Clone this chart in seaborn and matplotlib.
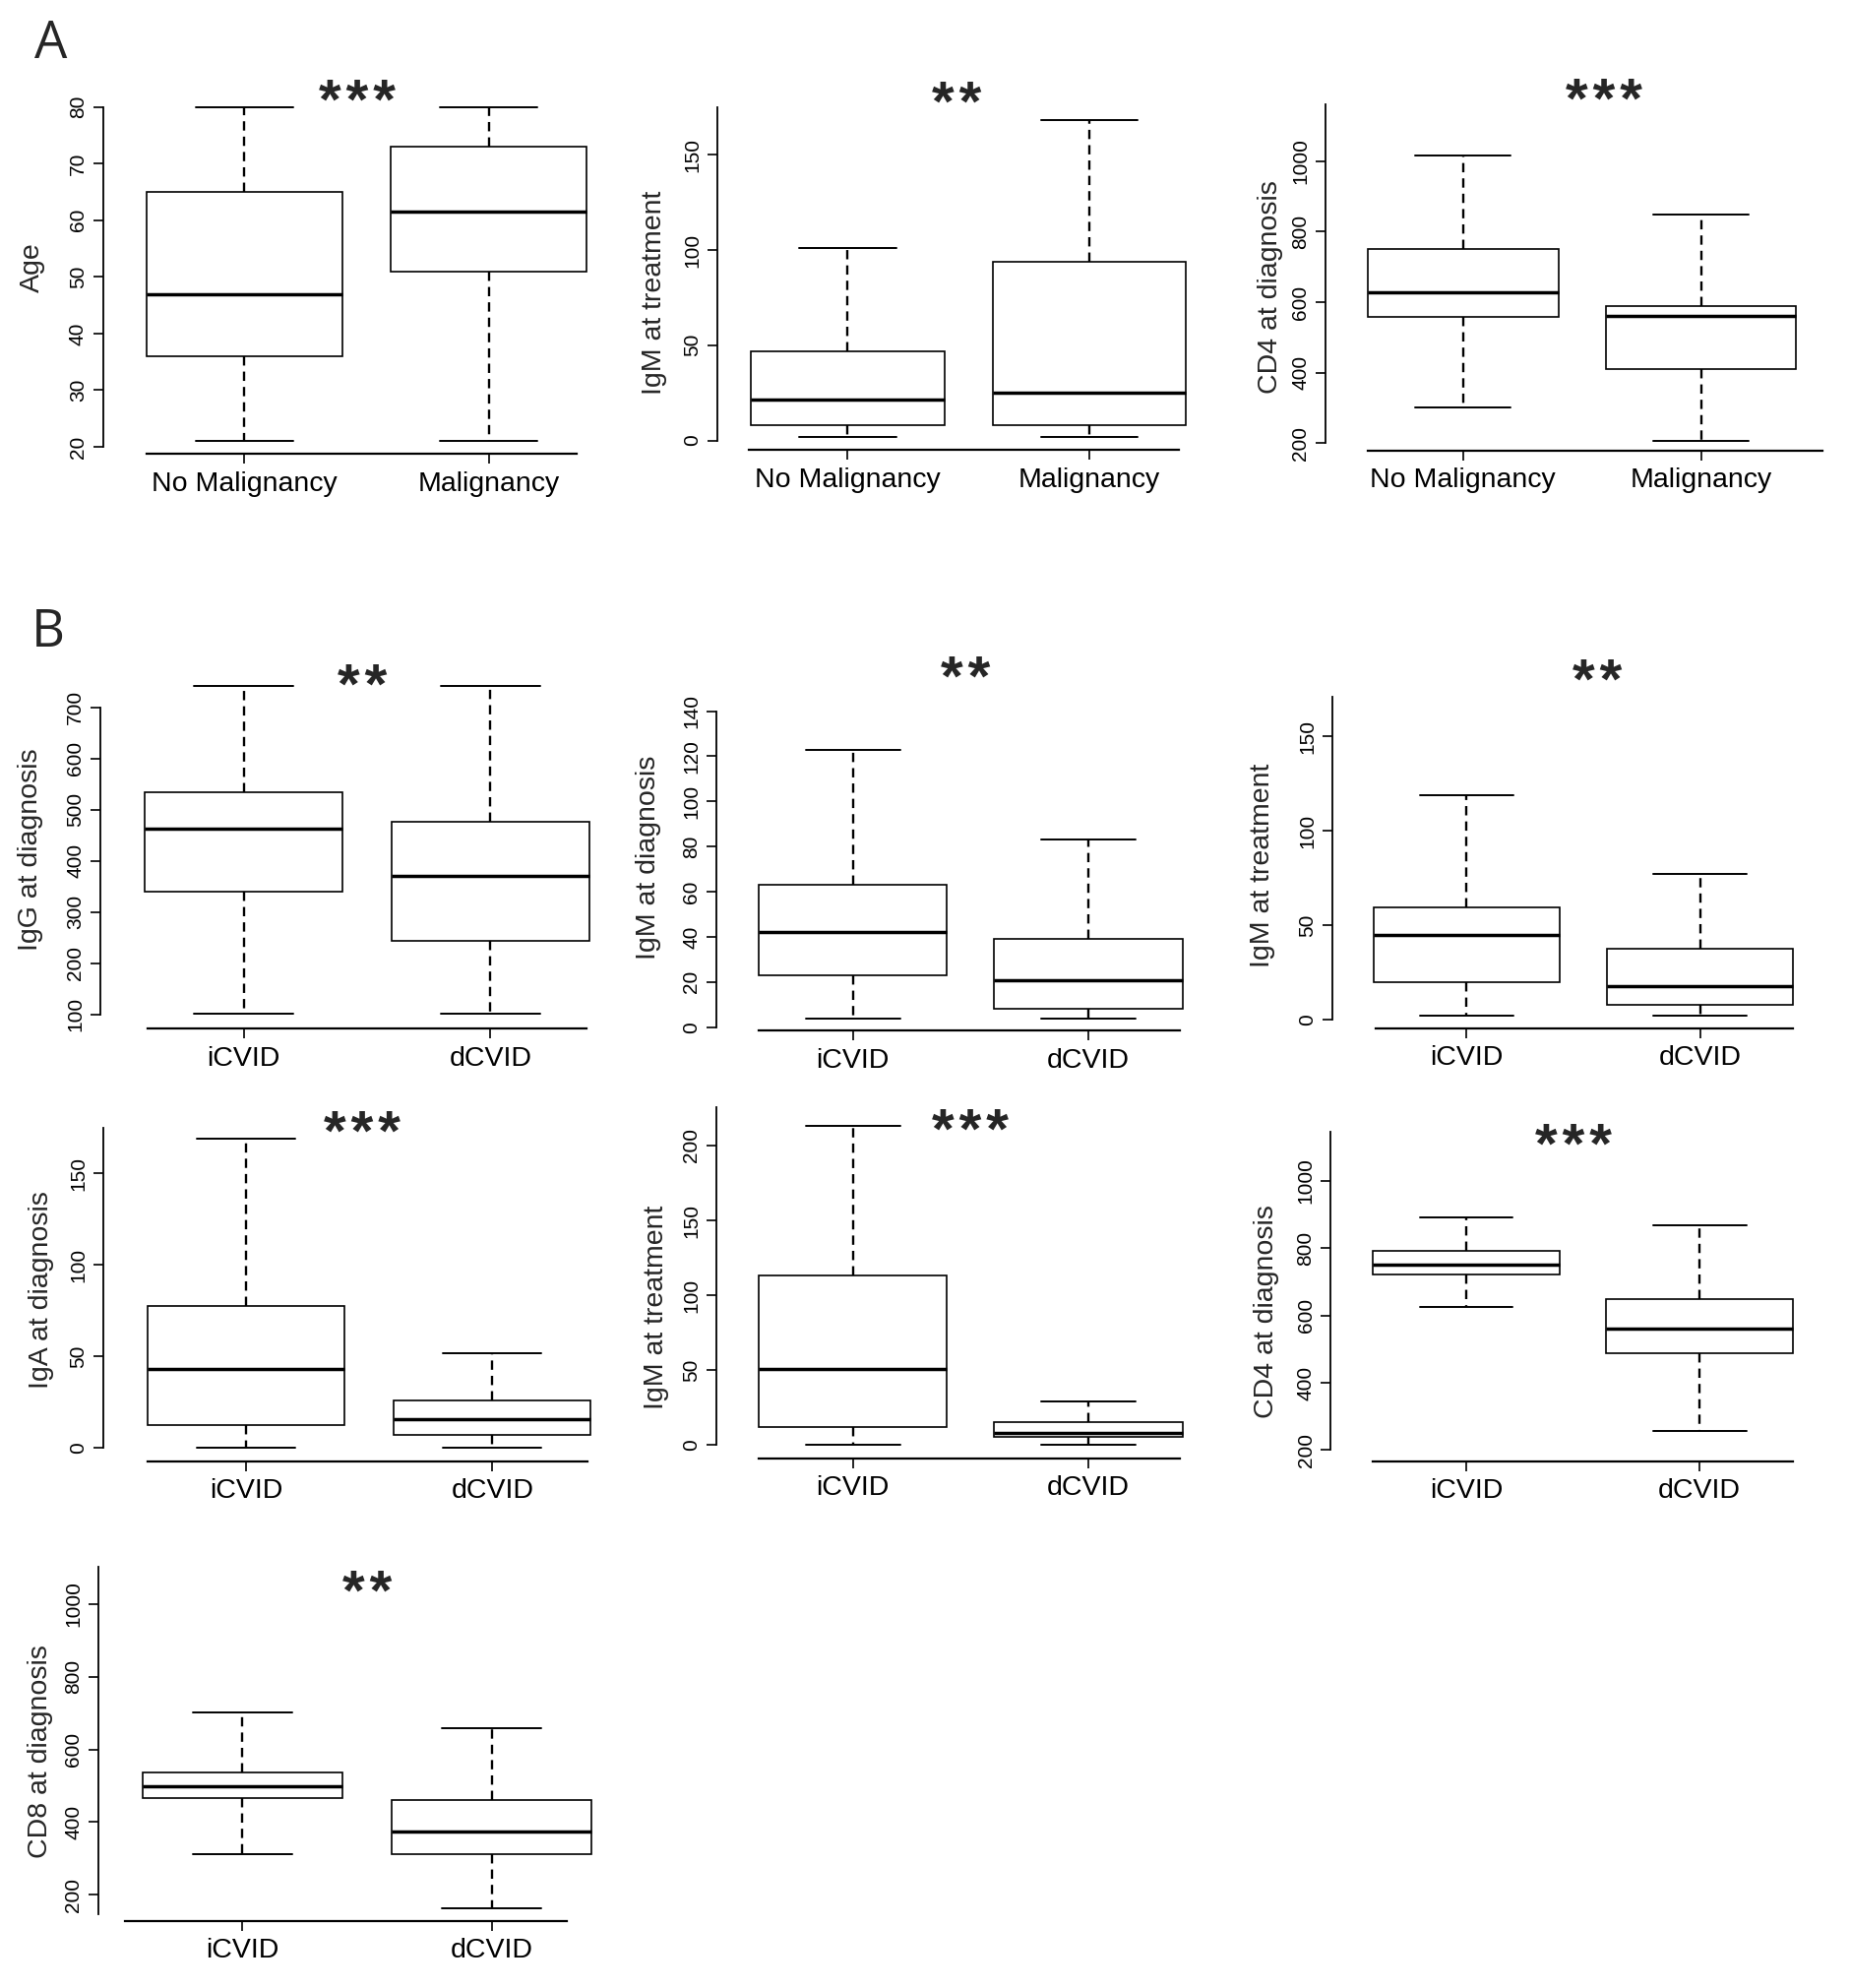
import matplotlib
matplotlib.use("Agg")
import matplotlib.pyplot as plt
import numpy as np
import pandas as pd
import seaborn as sns

# ---------------- data (five-number summaries) ----------------
# order: lower whisker, Q1, median, Q3, upper whisker
malig_groups = ["No Malignancy", "Malignancy"]
cvid_groups = ["iCVID", "dCVID"]

age_no_malig = [21, 36, 47, 65, 80]
age_malig = [21, 51, 61.5, 73, 80]
igm_treat_no_malig = [2, 8, 21.3, 47, 101]
igm_treat_malig = [2, 8, 25, 93.7, 168.5]
cd4_diag_no_malig = [300, 559, 629, 750, 1015]
cd4_diag_malig = [206, 411, 560, 589, 849]

igg_diag_i = [101, 341, 464, 535, 742]
igg_diag_d = [101, 244, 370, 476, 742]
igm_diag_i = [4, 23, 42, 63, 123]
igm_diag_d = [4, 8, 21, 39, 83]
igm_treat_i = [2, 20, 45, 59.5, 119]
igm_treat_d = [2, 8, 17.5, 37.5, 77]
iga_diag_i = [0, 12.5, 43, 77.5, 169]
iga_diag_d = [0, 6.7, 15.3, 25.8, 51.5]
igm_treat2_i = [0, 12, 51, 113, 213]
igm_treat2_d = [0, 5.4, 8, 15, 29]
cd4_diag_i = [625, 722, 751, 793, 891]
cd4_diag_d = [256, 487, 560, 647, 868]
cd8_diag_i = [313, 465, 498, 536, 701]
cd8_diag_d = [163, 312, 374, 461, 659]

yticks_age = [20, 30, 40, 50, 60, 70, 80]
yticks_igm150 = [0, 50, 100, 150]
yticks_cd = [200, 400, 600, 800, 1000]
yticks_igg = [100, 200, 300, 400, 500, 600, 700]
yticks_igm140 = [0, 20, 40, 60, 80, 100, 120, 140]
yticks_igm200 = [0, 50, 100, 150, 200]

panels = [
    ("Age", malig_groups, age_no_malig, age_malig, yticks_age, "***"),
    ("IgM at treatment", malig_groups, igm_treat_no_malig, igm_treat_malig, yticks_igm150, "**"),
    ("CD4 at diagnosis", malig_groups, cd4_diag_no_malig, cd4_diag_malig, yticks_cd, "***"),
    ("IgG at diagnosis", cvid_groups, igg_diag_i, igg_diag_d, yticks_igg, "**"),
    ("IgM at diagnosis", cvid_groups, igm_diag_i, igm_diag_d, yticks_igm140, "**"),
    ("IgM at treatment", cvid_groups, igm_treat_i, igm_treat_d, yticks_igm150, "**"),
    ("IgA at diagnosis", cvid_groups, iga_diag_i, iga_diag_d, yticks_igm150, "***"),
    ("IgM at treatment", cvid_groups, igm_treat2_i, igm_treat2_d, yticks_igm200, "***"),
    ("CD4 at diagnosis", cvid_groups, cd4_diag_i, cd4_diag_d, yticks_cd, "***"),
    ("CD8 at diagnosis", cvid_groups, cd8_diag_i, cd8_diag_d, yticks_cd, "**"),
]

# ---------------- layout (pixel geometry of each panel) ----------------
# c1, unit, y-axis x pos, x-line bounds, yref, yref_px, px/unit, ybottom, y-line bounds, star xy, ylabel px
layout = [
    (248.4, 248.4, -0.578, (-0.40, 1.36), 80, 108.7, 5.755, 18.75, (20, 80), (0.46, 83.5), (33, 272)),
    (861.5, 245.6, -0.54, (-0.41, 1.37), 150, 157.3, 1.935, -5.1, (0, 175), (0.45, 184.5), (665, 297)),
    (1486.8, 241.9, -0.578, (-0.40, 1.51), 1000, 163.7, 0.3581, 178.6, (200, 1160), (0.59, 1212), (1291, 292)),
    (247.6, 250.8, -0.58, (-0.39, 1.39), 700, 718.8, 0.5202, 72, (100, 700), (0.48, 770), (31, 863)),
    (866.8, 239.1, -0.58, (-0.40, 1.39), 140, 722.6, 2.2935, -1.6, (0, 140), (0.48, 160.7), (659, 871)),
    (1490.4, 237.1, -0.575, (-0.39, 1.40), 150, 748.2, 1.9187, -4.6, (0, 171), (0.56, 186.8), (1283, 879)),
    (250.4, 250.0, -0.58, (-0.40, 1.385), 150, 1192.0, 1.8593, -7.5, (0, 175), (0.47, 180), (42, 1311)),
    (866.8, 239.1, -0.58, (-0.40, 1.39), 200, 1163.9, 1.522, -8.7, (0, 225.6), (0.50, 219), (667, 1328)),
    (1490.0, 237.1, -0.58, (-0.40, 1.40), 1000, 1199.7, 0.3421, 166.7, (200, 1144), (0.46, 1146.5), (1287, 1333)),
    (246.4, 253.2, -0.578, (-0.47, 1.30), 1000, 1630.0, 0.369, 127, (147, 1102), (0.50, 1072), (41, 1780)),
]

W, H, DPI = 1880, 2020, 100
XR = 1.58

sns.set_style("ticks")
plt.rcParams["font.family"] = ["Liberation Sans", "DejaVu Sans"]

fig = plt.figure(figsize=(W / DPI, H / DPI), dpi=DPI)
fig.patch.set_facecolor("white")

STAR_FS = 42
TICK_FS = 15
LAB_FS = 20.5

for (ylabel, groups, v1, v2, yticks, stars), lay in zip(panels, layout):
    c1, unit, xax, xline, yref, yref_px, ppu, ybot, yline, (sx, sy), (lx, ly) = lay
    ytop = max(yline[1], sy)
    left = c1 + xax * unit
    right = c1 + XR * unit
    top = yref_px - (ytop - yref) * ppu
    bottom = yref_px + (yref - ybot) * ppu
    ax = fig.add_axes([left / W, 1 - bottom / H, (right - left) / W, (bottom - top) / H])
    ax.set_facecolor("none")

    df = pd.DataFrame({"group": [groups[0]] * len(v1) + [groups[1]] * len(v2),
                       "value": list(v1) + list(v2)})
    sns.boxplot(data=df, x="group", y="value", order=groups, ax=ax,
                whis=(0, 100), width=0.8, color="white", linecolor="black",
                linewidth=1.2, fliersize=0,
                boxprops=dict(linewidth=1.2),
                medianprops=dict(linewidth=2.5, color="black"),
                whiskerprops=dict(linewidth=1.7, linestyle=(0, (4, 2.6)), color="black"),
                capprops=dict(linewidth=1.4, color="black"))

    ax.set_xlim(xax, XR)
    ax.set_ylim(ybot, ytop)
    ax.set_yticks(yticks)
    ax.set_yticklabels([str(t) for t in yticks])
    ax.set_xticks([0, 1])
    ax.set_xticklabels(groups)
    ax.set_xlabel("")
    ax.set_ylabel(ylabel, fontsize=LAB_FS)
    ax.yaxis.set_label_coords(lx / W, 1 - ly / H, transform=fig.transFigure)
    ax.yaxis.label.set_va("center")

    for s in ("top", "right"):
        ax.spines[s].set_visible(False)
    ax.spines["left"].set_bounds(*yline)
    ax.spines["bottom"].set_bounds(*xline)
    ax.spines["left"].set_linewidth(1.3)
    ax.spines["bottom"].set_linewidth(1.6)
    ax.spines["left"].set_color("black")
    ax.spines["bottom"].set_color("black")

    ax.tick_params(axis="y", direction="out", length=7.5, width=1.2, labelsize=TICK_FS,
                   labelrotation=90, pad=4, colors="black")
    ax.tick_params(axis="x", direction="out", length=7.5, width=1.2, labelsize=LAB_FS,
                   pad=5, colors="black")
    for t in ax.get_yticklabels():
        t.set_va("center")

    star_text = "\u200a".join(stars)
    ax.annotate(star_text, xy=(sx, sy), xycoords="data",
                xytext=(0, -0.555 * STAR_FS), textcoords="offset points",
                ha="center", va="baseline", fontsize=STAR_FS, fontweight="bold",
                annotation_clip=False)

fig.text(35 / W, 1 - 58.8 / H, "A", fontsize=38, ha="left", va="baseline",
         family=["Open Sans", "DejaVu Sans"])
fig.text(32 / W, 1 - 657 / H, "B", fontsize=38, ha="left", va="baseline",
         family=["Open Sans", "DejaVu Sans"])

fig.savefig("out.png", dpi=DPI, facecolor="white")
